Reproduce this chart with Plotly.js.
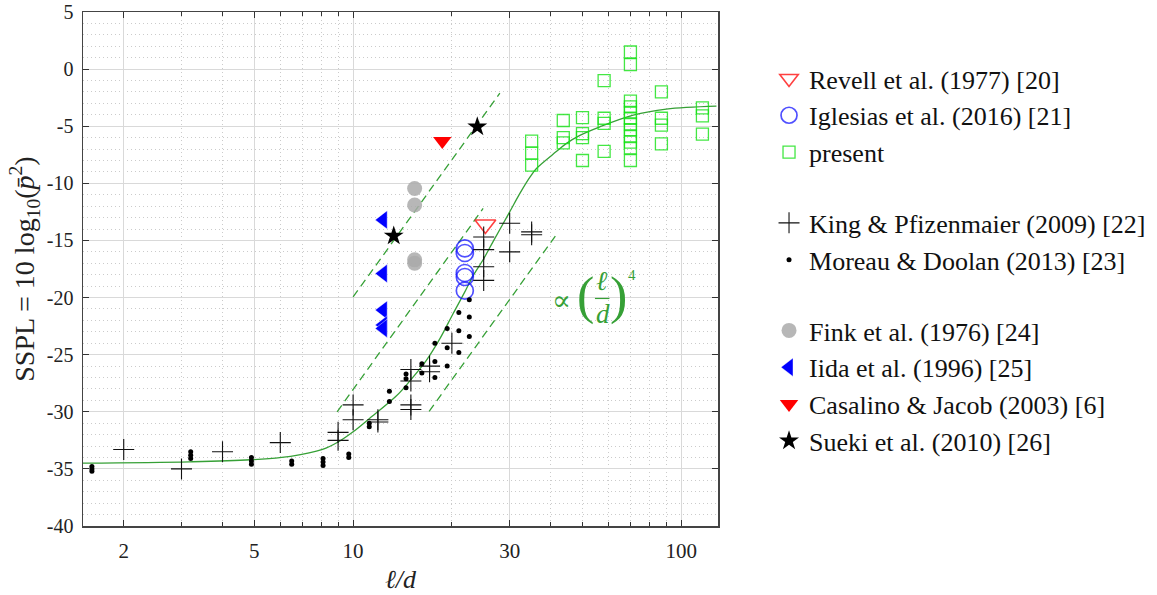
<!DOCTYPE html>
<html><head><meta charset="utf-8">
<script src="https://cdn.plot.ly/plotly-3.0.1.min.js"></script>
<style>body{margin:0;background:#fff}#chart{width:1157px;height:595px}</style>
</head><body><div id="chart"></div>
<script>
// ---------- data ----------
const xTickVals = [2, 5, 10, 30, 100];
const xTickText = ['2', '5', '10', '30', '100'];
const xMinorVals = [3, 4, 6, 7, 8, 9, 20, 40, 50, 60, 70, 80, 90];
const yTickVals = [-40, -35, -30, -25, -20, -15, -10, -5, 0, 5];
const yTickText = ['-40', '-35', '-30', '-25', '-20', '-15', '-10', '-5', '0', '5'];

// fitted curve (solid green)
const curveX = [1.5, 3.17, 4.87, 6.45, 8.07, 9.0, 10, 11.2, 13.56, 14.89, 16.72, 18.39, 20.18, 21.9, 23.2, 25, 26.7, 30, 32.2, 34.5, 36.2, 41.7, 44.7, 49.1, 56.5, 71.4, 90, 128];
const curveY = [-34.5, -34.38, -34.2, -33.9, -33.3, -32.65, -31.75, -30.6, -28.6, -27.3, -25.5, -23.6, -21.4, -19.5, -18.1, -16.6, -15.1, -12.5, -10.9, -9.5, -8.7, -7.2, -6.5, -5.8, -5.05, -4.03, -3.5, -3.24];

// (l/d)^4 guide lines (dashed green)
const dashUpperX = [10, 28.0];
const dashUpperY = [-19.95, -2.1];
const dashMiddleX = [8.94, 24.9];
const dashMiddleY = [-30.0, -12.2];
const dashLowerX = [17.05, 42.2];
const dashLowerY = [-29.96, -14.25];

const revellX = [25.3];
const revellY = [-13.6];
const iglesiasX = [21.9, 21.9, 21.9, 21.9, 21.9];
const iglesiasY = [-15.7, -16.1, -17.85, -18.2, -19.4];
const presentX = [35, 35, 35, 43.7, 43.7, 43.7, 50, 50, 50, 50, 58.2, 58.2, 58.2, 58.2,
  70, 70, 70, 70, 70, 70, 70, 70, 70, 70, 70, 70, 87, 87, 87, 87, 116, 116, 116];
const presentY = [-6.3, -7.35, -8.4, -4.5, -6.0, -6.45, -4.25, -5.65, -6.0, -8.0, -1.0, -4.3, -4.75, -7.2,
  1.5, 0.4, -2.8, -3.3, -3.8, -4.3, -4.8, -5.3, -5.9, -6.4, -6.9, -8.0, -2.0, -4.3, -4.9, -6.55, -3.4, -4.1, -5.7];
const kingX = [2, 3, 4, 6, 9, 9, 10, 10, 11.9, 11.9, 15, 15, 15, 15, 17.1, 17.1, 20, 25, 25, 25, 25, 30, 30, 35, 35];
const kingY = [-33.3, -35.0, -33.5, -32.7, -31.8, -32.5, -29.4, -30.7, -30.7, -30.9, -26.3, -27.3, -29.4, -29.8, -26.0, -26.5, -24.0, -14.7, -15.8, -17.3, -18.5, -13.5, -16.0, -14.25, -14.5];
const moreauX = [1.6, 1.6, 1.6, 3.2, 3.2, 3.2, 4.9, 4.9, 4.9, 6.5, 6.5, 8.1, 8.1, 8.1, 9.7, 9.7,
  11.2, 11.2, 12.9, 12.9, 14.5, 14.5, 14.5, 16.2, 16.2, 17.75, 17.75, 17.75, 19.35, 19.35, 19.35, 21.0, 21.0, 21.0, 22.6, 22.6, 22.6];
const moreauY = [-34.8, -35.0, -35.2, -33.5, -33.8, -34.1, -34.0, -34.3, -34.6, -34.3, -34.6, -34.1, -34.4, -34.7, -33.7, -34.0,
  -31.0, -31.3, -28.2, -29.1, -26.7, -27.1, -27.9, -25.8, -26.6, -24.0, -25.6, -27.0, -22.7, -24.4, -26.0, -21.3, -22.9, -24.8, -20.2, -21.7, -23.4];
const finkX = [15.4, 15.4, 15.4, 15.4];
const finkY = [-10.45, -11.9, -16.7, -17.0];
const iidaX = [12.35, 12.35, 12.35, 12.35, 12.35];
const iidaY = [-13.2, -17.9, -21.1, -22.4, -22.7];
const casalinoX = [18.7];
const casalinoY = [-6.3];
const suekiX = [13.3, 23.9];
const suekiY = [-14.6, -5.05];

// ---------- figure ----------
const FONT = '"Liberation Serif", "Times New Roman", "DejaVu Serif", serif';
const GREEN = '#36a036';

const traces = [
  {x: curveX, y: curveY, mode: 'lines', line: {color: GREEN, width: 1.3, shape: 'spline', smoothing: 1}, showlegend: false, hoverinfo: 'skip'},
  {x: dashUpperX, y: dashUpperY, mode: 'lines', line: {color: GREEN, width: 1.3, dash: '8px,5px'}, showlegend: false, hoverinfo: 'skip'},
  {x: dashMiddleX, y: dashMiddleY, mode: 'lines', line: {color: GREEN, width: 1.3, dash: '8px,5px'}, showlegend: false, hoverinfo: 'skip'},
  {x: dashLowerX, y: dashLowerY, mode: 'lines', line: {color: GREEN, width: 1.3, dash: '8px,5px'}, showlegend: false, hoverinfo: 'skip'},
  {name: 'Revell et al. (1977) [20]', legendgroup: 'a', x: revellX, y: revellY, mode: 'markers',
    marker: {symbol: 'triangle-down-open', size: 18, color: 'rgba(255,30,30,0.85)', line: {width: 1.6}}},
  {name: 'Iglesias et al. (2016) [21]', legendgroup: 'a', x: iglesiasX, y: iglesiasY, mode: 'markers',
    marker: {symbol: 'circle-open', size: 17, color: 'rgba(20,20,255,0.75)', line: {width: 1.7}}},
  {name: 'present', legendgroup: 'a', x: presentX, y: presentY, mode: 'markers',
    marker: {symbol: 'square-open', size: 12, color: 'rgba(20,225,20,0.8)', line: {width: 1.3}}},
  {name: 'King &amp; Pfizenmaier (2009) [22]', legendgroup: 'b', x: kingX, y: kingY, mode: 'markers',
    marker: {symbol: 'cross-thin-open', size: 15, color: '#111', line: {width: 1.1, color: '#111'}}},
  {name: 'Moreau &amp; Doolan (2013) [23]', legendgroup: 'b', x: moreauX, y: moreauY, mode: 'markers',
    marker: {symbol: 'circle', size: 5, color: '#000'}},
  {name: 'Fink et al. (1976) [24]', legendgroup: 'c', x: finkX, y: finkY, mode: 'markers',
    marker: {symbol: 'circle', size: 15, color: 'rgba(170,170,170,0.85)'}},
  {name: 'Iida et al. (1996) [25]', legendgroup: 'c', x: iidaX, y: iidaY, mode: 'markers',
    marker: {symbol: 'triangle-left', size: 16, color: '#0000ff', line: {width: 0.6, color: 'rgba(255,255,255,0.7)'}}},
  {name: 'Casalino &amp; Jacob (2003) [6]', legendgroup: 'c', x: casalinoX, y: casalinoY, mode: 'markers',
    marker: {symbol: 'triangle-down', size: 16, color: '#ff0000'}},
  {name: 'Sueki et al. (2010) [26]', legendgroup: 'c', x: suekiX, y: suekiY, mode: 'markers',
    marker: {symbol: 'star', size: 15, color: '#000'}}
];

function px2fx(px) { return (px - 83.3) / 634.7; }
function py2fy(py) { return (525.7 - py) / 513.7; }
const ann = (txt, px, py, size) => ({text: txt, xref: 'paper', yref: 'paper', x: px2fx(px), y: py2fy(py),
  xanchor: 'center', yanchor: 'middle', showarrow: false, font: {family: FONT, size: size, color: GREEN, weight: 300}});

const layout = {
  width: 1157, height: 595,
  margin: {l: 83, r: 439, t: 12, b: 69, autoexpand: false},
  paper_bgcolor: '#fff', plot_bgcolor: '#fff',
  font: {family: FONT, color: '#222'},
  showlegend: true,
  legend: {x: px2fx(769), xanchor: 'left', y: py2fy(55), yanchor: 'top',
    font: {family: FONT, size: 26, color: '#111'}, traceorder: 'grouped', tracegroupgap: 34,
    bgcolor: 'rgba(0,0,0,0)', borderwidth: 0},
  xaxis: {type: 'log', range: [Math.log10(1.503), Math.log10(129.4)], automargin: false,
    tickmode: 'array', tickvals: xTickVals, ticktext: xTickText,
    ticks: 'inside', ticklen: 6, tickwidth: 1, tickcolor: '#333',
    showline: true, linecolor: '#444', linewidth: 1.5, mirror: 'ticks',
    showgrid: true, gridcolor: '#d9d9d9', gridwidth: 1, zeroline: false,
    tickfont: {family: FONT, size: 21, color: '#222'}, ticklabelstandoff: 5,
    title: {text: '<i>ℓ/d</i>', font: {family: FONT, size: 26, color: '#222'}, standoff: 8},
    minor: {tickvals: xMinorVals, ticks: 'inside', ticklen: 4, tickcolor: '#333',
      showgrid: true, gridcolor: '#cbcbcb', griddash: '1px,3px', gridwidth: 1}},
  yaxis: {range: [-40, 5], automargin: false,
    tickmode: 'array', tickvals: yTickVals, ticktext: yTickText,
    ticks: 'inside', ticklen: 6, tickwidth: 1, tickcolor: '#333',
    showline: true, linecolor: '#444', linewidth: 1.5, mirror: 'ticks',
    showgrid: true, gridcolor: '#d9d9d9', gridwidth: 1, zeroline: false,
    tickfont: {family: FONT, size: 20, color: '#222'}, ticklabelstandoff: 4,
    title: {text: 'SSPL = 10 log<sub>10</sub>(<i>p̄</i><sup>2</sup>)', font: {family: FONT, size: 28, color: '#222'}, standoff: 4},
    minor: {dtick: 1, ticks: '', showgrid: true, gridcolor: '#cbcbcb', griddash: '1px,3px', gridwidth: 1}},
  annotations: [
    ann('∝', 561.7, 300, 28),
    ann('(', 586, 296, 52),
    ann('<i>ℓ</i>', 601.7, 281, 27),
    ann('<i>d</i>', 602.7, 314, 27),
    ann(')', 618.3, 296, 52),
    ann('4', 632, 275, 15)
  ],
  shapes: [
    {type: 'line', xref: 'paper', yref: 'paper', x0: px2fx(595), x1: px2fx(609.5), y0: py2fy(298.3), y1: py2fy(298.3),
      line: {color: GREEN, width: 1.2}}
  ]
};

Plotly.newPlot('chart', traces, layout, {displayModeBar: false, staticPlot: true});
</script>
</body></html>
